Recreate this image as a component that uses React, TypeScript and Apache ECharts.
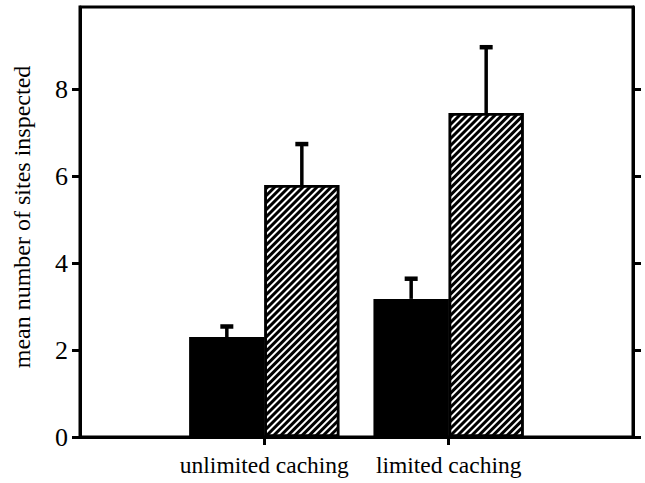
import React, { useEffect, useRef } from 'react';
import * as echarts from 'echarts';

const groups = ['unlimited caching', 'limited caching'];
const solidMeans = [2.3, 3.18];
const solidSE = [0.25, 0.47];
const hatchedMeans = [5.8, 7.46];
const hatchedSE = [0.95, 1.52];
const yTicks = [0, 2, 4, 6, 8];
const yName = 'mean number of sites inspected';

const BAR_W = 75;
const FONT = '"Liberation Serif", "Times New Roman", serif';

export default function App() {
  const ref = useRef<HTMLDivElement>(null);
  useEffect(() => {
    document.body.style.margin = '0';
    if (!ref.current) return;
    const chart = echarts.init(ref.current, undefined, { renderer: 'svg' });
    const categories = ['', ...groups, ''];
    const pad = (arr: number[]) => ['-', ...arr, '-'];
    const errData: number[][] = [];
    groups.forEach((_, i) => {
      errData.push([i + 1, solidMeans[i], solidMeans[i] + solidSE[i], -1]);
      errData.push([i + 1, hatchedMeans[i], hatchedMeans[i] + hatchedSE[i], 1]);
    });
    const axisLineStyle = { color: '#000', width: 3 };
    chart.setOption({
      animation: false,
      aria: { enabled: true, decal: { show: true } },
      grid: {
        left: 80, right: 12, top: 7, bottom: 46,
        show: true, borderColor: '#000', borderWidth: 3,
        containLabel: false, outerBoundsMode: 'none',
      },
      xAxis: {
        type: 'category',
        data: categories,
        boundaryGap: false,
        axisLine: { lineStyle: axisLineStyle },
        axisTick: {
          interval: (i: number) => i === 1 || i === 2,
          length: 8,
          lineStyle: { color: '#000', width: 3 },
        },
        axisLabel: {
          interval: 0,
          fontSize: 23.5,
          fontFamily: FONT,
          color: '#000',
          margin: 16,
        },
        splitLine: { show: false },
      },
      yAxis: [
        {
          type: 'value',
          min: 0,
          max: 9.9,
          position: 'left',
          name: yName,
          nameLocation: 'middle',
          nameGap: 46,
          nameTextStyle: { fontSize: 24, fontFamily: FONT, color: '#000', padding: [0, 0, 0, 10] },
          axisLine: { show: true, lineStyle: axisLineStyle },
          axisTick: { show: true, length: 8, customValues: yTicks, lineStyle: { color: '#000', width: 3 } },
          axisLabel: { fontSize: 26, fontFamily: FONT, color: '#000', margin: 12, customValues: yTicks },
          splitLine: { show: false },
        },
        {
          type: 'value',
          min: 0,
          max: 9.9,
          position: 'right',
          axisLine: { show: true, lineStyle: axisLineStyle },
          axisTick: { show: true, length: 8, customValues: yTicks, lineStyle: { color: '#000', width: 3 } },
          axisLabel: { show: false },
          splitLine: { show: false },
        },
      ],
      series: [
        {
          type: 'bar',
          data: pad(solidMeans),
          barWidth: BAR_W,
          barGap: '0%',
          itemStyle: { color: '#000', borderColor: '#000', borderWidth: 2.5, decal: { symbol: 'none' } },
        },
        {
          type: 'bar',
          data: pad(hatchedMeans),
          barWidth: BAR_W,
          barGap: '0%',
          itemStyle: {
            color: '#fff',
            borderColor: '#000',
            borderWidth: 2.5,
            decal: {
              symbol: 'rect',
              symbolSize: 1,
              color: '#000',
              backgroundColor: '#fff',
              dashArrayX: [1, 0],
              dashArrayY: [3, 2],
              rotation: -Math.PI / 4,
            },
          },
        },
        {
          type: 'custom',
          data: errData,
          encode: { x: 0, y: [1, 2] },
          z: 5,
          renderItem: (params: any, api: any) => {
            const xi = api.value(0);
            const m = api.value(1);
            const top = api.value(2);
            const side = api.value(3);
            const p0 = api.coord([xi, m]);
            const p1 = api.coord([xi, top]);
            const cx = p0[0] + (side * BAR_W) / 2;
            return {
              type: 'group',
              children: [
                { type: 'line', shape: { x1: cx, y1: p0[1], x2: cx, y2: p1[1] }, style: { stroke: '#000', lineWidth: 3.5 } },
                { type: 'rect', shape: { x: cx - 6.5, y: p1[1] - 2, width: 13, height: 4.5 }, style: { fill: '#000' } },
              ],
            };
          },
        },
      ],
    });
    return () => chart.dispose();
  }, []);
  return <div ref={ref} style={{ width: 645, height: 483 }} />;
}
